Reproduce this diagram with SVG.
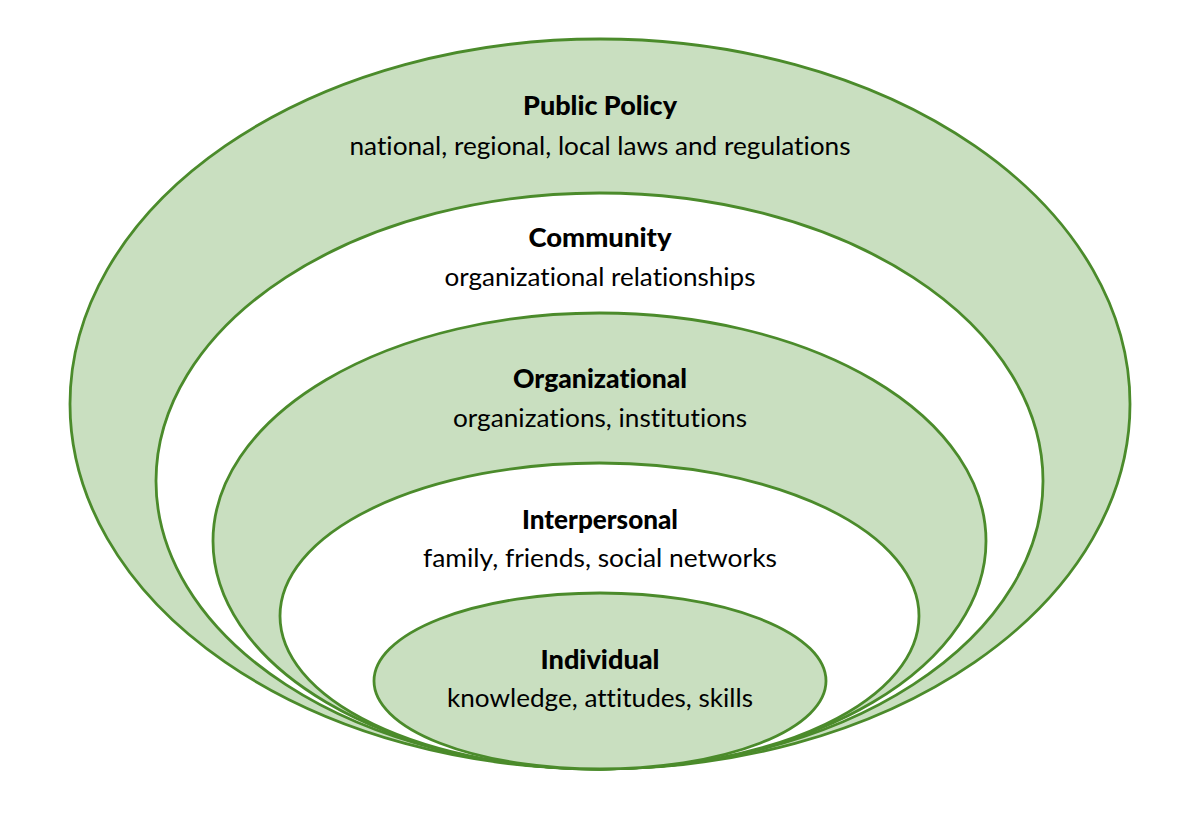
<svg xmlns="http://www.w3.org/2000/svg" width="1200" height="814" viewBox="0 0 1200 814">
<style>
.g{fill:#c9dfc0;stroke:#4b8b2b;stroke-width:2.8}
.w{fill:#ffffff;stroke:#4b8b2b;stroke-width:2.8}
.t{font-family:Lato,"Liberation Sans",sans-serif;font-weight:900;font-size:26px;fill:#000;text-anchor:middle;font-variant-ligatures:none}
.s{font-family:Lato,"Liberation Sans",sans-serif;font-size:25px;fill:#000;text-anchor:middle;font-variant-ligatures:none}
</style>
<rect width="1200" height="814" fill="#ffffff"/>
<g id="public-policy">
<ellipse class="g" cx="600" cy="404" rx="530" ry="365"/>
<text class="t" x="600" y="115" textLength="154" lengthAdjust="spacingAndGlyphs">Public Policy</text>
<text class="s" x="600" y="155" textLength="501" lengthAdjust="spacingAndGlyphs">national, regional, local laws and regulations</text>
</g>
<g id="community">
<ellipse class="w" cx="599.5" cy="481" rx="443.5" ry="288"/>
<text class="t" x="600" y="247" textLength="143" lengthAdjust="spacingAndGlyphs">Community</text>
<text class="s" x="600" y="286" textLength="311" lengthAdjust="spacingAndGlyphs">organizational relationships</text>
</g>
<g id="organizational">
<ellipse class="g" cx="599.5" cy="541" rx="386.5" ry="228"/>
<text class="t" x="600" y="388" textLength="174" lengthAdjust="spacingAndGlyphs">Organizational</text>
<text class="s" x="600" y="427" textLength="294" lengthAdjust="spacingAndGlyphs">organizations, institutions</text>
</g>
<g id="interpersonal">
<ellipse class="w" cx="599.5" cy="616" rx="319.5" ry="153"/>
<text class="t" x="600" y="529" textLength="156" lengthAdjust="spacingAndGlyphs">Interpersonal</text>
<text class="s" x="600" y="567" textLength="354" lengthAdjust="spacingAndGlyphs">family, friends, social networks</text>
</g>
<g id="individual">
<ellipse class="g" cx="600" cy="681" rx="226" ry="88"/>
<text class="t" x="600" y="669" textLength="119" lengthAdjust="spacingAndGlyphs">Individual</text>
<text class="s" x="600" y="707" textLength="306" lengthAdjust="spacingAndGlyphs">knowledge, attitudes, skills</text>
</g>
<g id="connectors"/>
</svg>
